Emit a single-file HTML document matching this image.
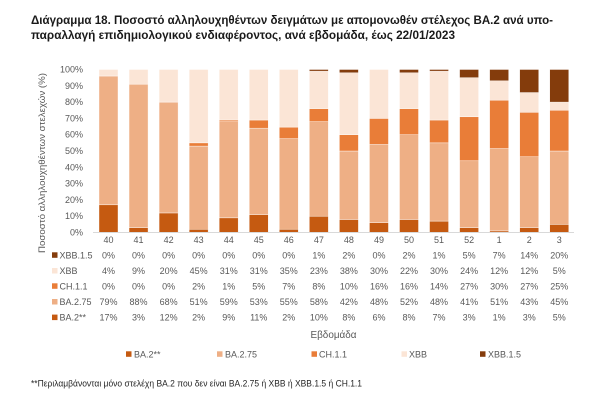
<!DOCTYPE html>
<html>
<head>
<meta charset="utf-8">
<style>
html,body{margin:0;padding:0;background:#fff;}
svg{display:block;}
text{font-family:"Liberation Sans","Noto Sans CJK SC",sans-serif;}
</style>
</head>
<body>
<svg width="600" height="401" viewBox="0 0 600 401" xmlns="http://www.w3.org/2000/svg">
<rect width="600" height="401" fill="#fff"/>
<!-- Title -->
<text x="31" y="24" font-size="11.5" font-weight="bold" fill="#1a1a1a" textLength="522" lengthAdjust="spacingAndGlyphs">Διάγραμμα 18. Ποσοστό αλληλουχηθέντων δειγμάτων με απομονωθέν στέλεχος BA.2 ανά υπο-</text>
<text x="31" y="39" font-size="11.5" font-weight="bold" fill="#1a1a1a" textLength="424" lengthAdjust="spacingAndGlyphs">παραλλαγή επιδημιολογικού ενδιαφέροντος, ανά εβδομάδα, έως 22/01/2023</text>

<!-- Y axis title -->
<text transform="translate(45,163) rotate(-90)" text-anchor="middle" font-size="9.5" fill="#595959" textLength="180" lengthAdjust="spacingAndGlyphs">Ποσοστό αλληλουχηθέντων στελεχών (%)</text>

<!-- Y tick labels -->
<g font-size="9" fill="#595959" text-anchor="end">
<text x="83" y="72.5">100%</text>
<text x="83" y="88.8">90%</text>
<text x="83" y="105.1">80%</text>
<text x="83" y="121.4">70%</text>
<text x="83" y="137.7">60%</text>
<text x="83" y="154">50%</text>
<text x="83" y="170.3">40%</text>
<text x="83" y="186.6">30%</text>
<text x="83" y="202.9">20%</text>
<text x="83" y="219.2">10%</text>
<text x="83" y="235.5">0%</text>
</g>

<!-- Bars -->
<g stroke="#ffffff" stroke-width="0.5" stroke-opacity="0.8">
<!-- 40 -->
<rect x="99" y="204.79" width="19" height="27.71" fill="#c55a11"/>
<rect x="99" y="76.02" width="19" height="128.77" fill="#eeaf85"/>
<rect x="99" y="69.5" width="19" height="6.52" fill="#fbe5d6"/>
<!-- 41 -->
<rect x="129.05" y="227.61" width="19" height="4.89" fill="#c55a11"/>
<rect x="129.05" y="84.17" width="19" height="143.44" fill="#eeaf85"/>
<rect x="129.05" y="69.5" width="19" height="14.67" fill="#fbe5d6"/>
<!-- 42 -->
<rect x="159.1" y="212.94" width="19" height="19.56" fill="#c55a11"/>
<rect x="159.1" y="102.1" width="19" height="110.84" fill="#eeaf85"/>
<rect x="159.1" y="69.5" width="19" height="32.6" fill="#fbe5d6"/>
<!-- 43 -->
<rect x="189.15" y="229.24" width="19" height="3.26" fill="#c55a11"/>
<rect x="189.15" y="146.11" width="19" height="83.13" fill="#eeaf85"/>
<rect x="189.15" y="142.85" width="19" height="3.26" fill="#e97d38"/>
<rect x="189.15" y="69.5" width="19" height="73.35" fill="#fbe5d6"/>
<!-- 44 -->
<rect x="219.2" y="217.83" width="19" height="14.67" fill="#c55a11"/>
<rect x="219.2" y="121.66" width="19" height="96.17" fill="#eeaf85"/>
<rect x="219.2" y="120.03" width="19" height="1.63" fill="#e97d38"/>
<rect x="219.2" y="69.5" width="19" height="50.53" fill="#fbe5d6"/>
<!-- 45 -->
<rect x="249.25" y="214.57" width="19" height="17.93" fill="#c55a11"/>
<rect x="249.25" y="128.18" width="19" height="86.39" fill="#eeaf85"/>
<rect x="249.25" y="120.03" width="19" height="8.15" fill="#e97d38"/>
<rect x="249.25" y="69.5" width="19" height="50.53" fill="#fbe5d6"/>
<!-- 46 -->
<rect x="279.3" y="229.21" width="19" height="3.29" fill="#c55a11"/>
<rect x="279.3" y="138.65" width="19" height="90.56" fill="#eeaf85"/>
<rect x="279.3" y="127.12" width="19" height="11.53" fill="#e97d38"/>
<rect x="279.3" y="69.5" width="19" height="57.62" fill="#fbe5d6"/>
<!-- 47 -->
<rect x="309.35" y="216.2" width="19" height="16.3" fill="#c55a11"/>
<rect x="309.35" y="121.66" width="19" height="94.54" fill="#eeaf85"/>
<rect x="309.35" y="108.62" width="19" height="13.04" fill="#e97d38"/>
<rect x="309.35" y="71.13" width="19" height="37.49" fill="#fbe5d6"/>
<rect x="309.35" y="69.5" width="19" height="1.63" fill="#843c0c"/>
<!-- 48 -->
<rect x="339.4" y="219.46" width="19" height="13.04" fill="#c55a11"/>
<rect x="339.4" y="151" width="19" height="68.46" fill="#eeaf85"/>
<rect x="339.4" y="134.7" width="19" height="16.3" fill="#e97d38"/>
<rect x="339.4" y="72.76" width="19" height="61.94" fill="#fbe5d6"/>
<rect x="339.4" y="69.5" width="19" height="3.26" fill="#843c0c"/>
<!-- 49 -->
<rect x="369.45" y="222.72" width="19" height="9.78" fill="#c55a11"/>
<rect x="369.45" y="144.48" width="19" height="78.24" fill="#eeaf85"/>
<rect x="369.45" y="118.4" width="19" height="26.08" fill="#e97d38"/>
<rect x="369.45" y="69.5" width="19" height="48.9" fill="#fbe5d6"/>
<!-- 50 -->
<rect x="399.5" y="219.46" width="19" height="13.04" fill="#c55a11"/>
<rect x="399.5" y="134.7" width="19" height="84.76" fill="#eeaf85"/>
<rect x="399.5" y="108.62" width="19" height="26.08" fill="#e97d38"/>
<rect x="399.5" y="72.76" width="19" height="35.86" fill="#fbe5d6"/>
<rect x="399.5" y="69.5" width="19" height="3.26" fill="#843c0c"/>
<!-- 51 -->
<rect x="429.55" y="221.09" width="19" height="11.41" fill="#c55a11"/>
<rect x="429.55" y="142.85" width="19" height="78.24" fill="#eeaf85"/>
<rect x="429.55" y="120.03" width="19" height="22.82" fill="#e97d38"/>
<rect x="429.55" y="71.13" width="19" height="48.9" fill="#fbe5d6"/>
<rect x="429.55" y="69.5" width="19" height="1.63" fill="#843c0c"/>
<!-- 52 -->
<rect x="459.6" y="227.61" width="19" height="4.89" fill="#c55a11"/>
<rect x="459.6" y="160.78" width="19" height="66.83" fill="#eeaf85"/>
<rect x="459.6" y="116.77" width="19" height="44.01" fill="#e97d38"/>
<rect x="459.6" y="77.65" width="19" height="39.12" fill="#fbe5d6"/>
<rect x="459.6" y="69.5" width="19" height="8.15" fill="#843c0c"/>
<!-- 1 -->
<rect x="489.65" y="230.89" width="19" height="1.61" fill="#c55a11"/>
<rect x="489.65" y="148.58" width="19" height="82.31" fill="#eeaf85"/>
<rect x="489.65" y="100.16" width="19" height="48.42" fill="#e97d38"/>
<rect x="489.65" y="80.79" width="19" height="19.37" fill="#fbe5d6"/>
<rect x="489.65" y="69.5" width="19" height="11.29" fill="#843c0c"/>
<!-- 2 -->
<rect x="519.7" y="227.56" width="19" height="4.94" fill="#c55a11"/>
<rect x="519.7" y="156.76" width="19" height="70.8" fill="#eeaf85"/>
<rect x="519.7" y="112.3" width="19" height="44.46" fill="#e97d38"/>
<rect x="519.7" y="92.54" width="19" height="19.76" fill="#fbe5d6"/>
<rect x="519.7" y="69.5" width="19" height="23.04" fill="#843c0c"/>
<!-- 3 -->
<rect x="549.75" y="224.35" width="19" height="8.15" fill="#c55a11"/>
<rect x="549.75" y="151" width="19" height="73.35" fill="#eeaf85"/>
<rect x="549.75" y="110.25" width="19" height="40.75" fill="#e97d38"/>
<rect x="549.75" y="102.1" width="19" height="8.15" fill="#fbe5d6"/>
<rect x="549.75" y="69.5" width="19" height="32.6" fill="#843c0c"/>
</g>

<!-- axis line -->
<line x1="93" y1="232.5" x2="574" y2="232.5" stroke="#d9d9d9" stroke-width="1"/>

<!-- Data table -->
<g font-size="9" fill="#595959" text-anchor="middle">
<!-- week labels -->
<text x="108.5" y="243">40</text><text x="138.55" y="243">41</text><text x="168.6" y="243">42</text><text x="198.65" y="243">43</text><text x="228.7" y="243">44</text><text x="258.75" y="243">45</text><text x="288.8" y="243">46</text><text x="318.85" y="243">47</text><text x="348.9" y="243">48</text><text x="378.95" y="243">49</text><text x="409" y="243">50</text><text x="439.05" y="243">51</text><text x="469.1" y="243">52</text><text x="499.15" y="243">1</text><text x="529.2" y="243">2</text><text x="559.25" y="243">3</text>
<!-- XBB.1.5 -->
<text x="108.5" y="258.3">0%</text><text x="138.55" y="258.3">0%</text><text x="168.6" y="258.3">0%</text><text x="198.65" y="258.3">0%</text><text x="228.7" y="258.3">0%</text><text x="258.75" y="258.3">0%</text><text x="288.8" y="258.3">0%</text><text x="318.85" y="258.3">1%</text><text x="348.9" y="258.3">2%</text><text x="378.95" y="258.3">0%</text><text x="409" y="258.3">2%</text><text x="439.05" y="258.3">1%</text><text x="469.1" y="258.3">5%</text><text x="499.15" y="258.3">7%</text><text x="529.2" y="258.3">14%</text><text x="559.25" y="258.3">20%</text>
<!-- XBB -->
<text x="108.5" y="274">4%</text><text x="138.55" y="274">9%</text><text x="168.6" y="274">20%</text><text x="198.65" y="274">45%</text><text x="228.7" y="274">31%</text><text x="258.75" y="274">31%</text><text x="288.8" y="274">35%</text><text x="318.85" y="274">23%</text><text x="348.9" y="274">38%</text><text x="378.95" y="274">30%</text><text x="409" y="274">22%</text><text x="439.05" y="274">30%</text><text x="469.1" y="274">24%</text><text x="499.15" y="274">12%</text><text x="529.2" y="274">12%</text><text x="559.25" y="274">5%</text>
<!-- CH.1.1 -->
<text x="108.5" y="289.3">0%</text><text x="138.55" y="289.3">0%</text><text x="168.6" y="289.3">0%</text><text x="198.65" y="289.3">2%</text><text x="228.7" y="289.3">1%</text><text x="258.75" y="289.3">5%</text><text x="288.8" y="289.3">7%</text><text x="318.85" y="289.3">8%</text><text x="348.9" y="289.3">10%</text><text x="378.95" y="289.3">16%</text><text x="409" y="289.3">16%</text><text x="439.05" y="289.3">14%</text><text x="469.1" y="289.3">27%</text><text x="499.15" y="289.3">30%</text><text x="529.2" y="289.3">27%</text><text x="559.25" y="289.3">25%</text>
<!-- BA.2.75 -->
<text x="108.5" y="305">79%</text><text x="138.55" y="305">88%</text><text x="168.6" y="305">68%</text><text x="198.65" y="305">51%</text><text x="228.7" y="305">59%</text><text x="258.75" y="305">53%</text><text x="288.8" y="305">55%</text><text x="318.85" y="305">58%</text><text x="348.9" y="305">42%</text><text x="378.95" y="305">48%</text><text x="409" y="305">52%</text><text x="439.05" y="305">48%</text><text x="469.1" y="305">41%</text><text x="499.15" y="305">51%</text><text x="529.2" y="305">43%</text><text x="559.25" y="305">45%</text>
<!-- BA.2** -->
<text x="108.5" y="320.6">17%</text><text x="138.55" y="320.6">3%</text><text x="168.6" y="320.6">12%</text><text x="198.65" y="320.6">2%</text><text x="228.7" y="320.6">9%</text><text x="258.75" y="320.6">11%</text><text x="288.8" y="320.6">2%</text><text x="318.85" y="320.6">10%</text><text x="348.9" y="320.6">8%</text><text x="378.95" y="320.6">6%</text><text x="409" y="320.6">8%</text><text x="439.05" y="320.6">7%</text><text x="469.1" y="320.6">3%</text><text x="499.15" y="320.6">1%</text><text x="529.2" y="320.6">3%</text><text x="559.25" y="320.6">5%</text>
</g>

<!-- Table row labels -->
<g font-size="9" fill="#595959">
<rect x="52" y="252.3" width="5.5" height="5.5" fill="#843c0c"/><text x="59.5" y="258.3">XBB.1.5</text>
<rect x="52" y="268" width="5.5" height="5.5" fill="#fbe5d6"/><text x="59.5" y="274">XBB</text>
<rect x="52" y="283.3" width="5.5" height="5.5" fill="#e97d38"/><text x="59.5" y="289.3">CH.1.1</text>
<rect x="52" y="299" width="5.5" height="5.5" fill="#eeaf85"/><text x="59.5" y="305">BA.2.75</text>
<rect x="52" y="314.6" width="5.5" height="5.5" fill="#c55a11"/><text x="59.5" y="320.6">BA.2**</text>
</g>

<!-- X axis title -->
<text x="333.5" y="338" font-size="10" fill="#595959" text-anchor="middle" textLength="46" lengthAdjust="spacingAndGlyphs">Εβδομάδα</text>

<!-- Legend -->
<g font-size="9" fill="#595959">
<rect x="126" y="351.3" width="5.5" height="5.5" fill="#c55a11"/><text x="134" y="357.5">BA.2**</text>
<rect x="217" y="351.3" width="5.5" height="5.5" fill="#eeaf85"/><text x="225" y="357.5">BA.2.75</text>
<rect x="311.5" y="351.3" width="5.5" height="5.5" fill="#e97d38"/><text x="319" y="357.5">CH.1.1</text>
<rect x="401.5" y="351.3" width="5.5" height="5.5" fill="#fbe5d6"/><text x="409" y="357.5">XBB</text>
<rect x="480" y="351.3" width="5.5" height="5.5" fill="#843c0c"/><text x="488" y="357.5">XBB.1.5</text>
</g>

<!-- Footnote -->
<text x="31" y="386.5" font-size="9" fill="#262626" textLength="331" lengthAdjust="spacingAndGlyphs">**Περιλαμβάνονται μόνο στελέχη BA.2 που δεν είναι BA.2.75 ή XBB ή XBB.1.5 ή CH.1.1</text>
</svg>
</body>
</html>
